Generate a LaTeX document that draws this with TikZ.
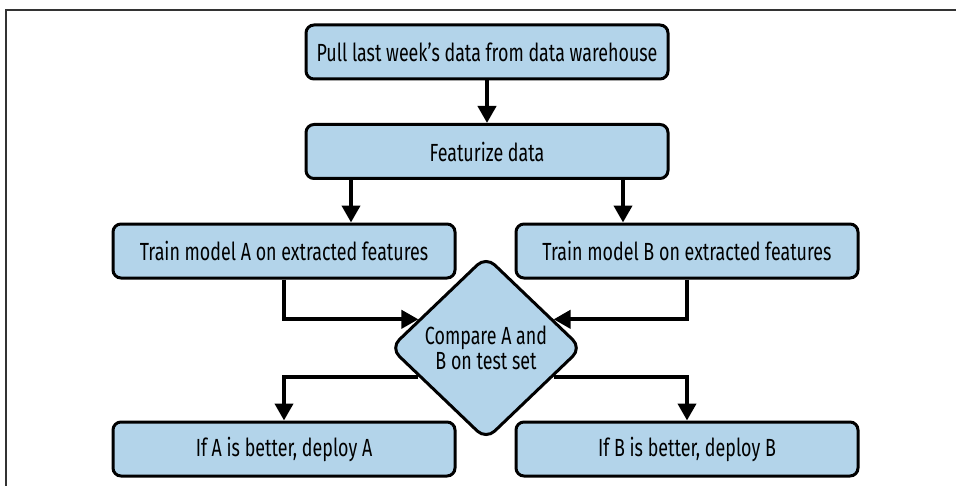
\documentclass[tikz,border=0pt]{standalone}
\usepackage{fontspec}
\setmainfont{Fira Sans}[FakeStretch=0.72]
\usepackage{tikz}
\usetikzlibrary{arrows.meta,shapes.geometric}
\definecolor{boxfill}{HTML}{B3D4EA}
\definecolor{framegray}{HTML}{333333}
\tikzset{
  stepbox/.style={draw, rounded corners=4pt, line width=1.5pt, align=center,
    inner xsep=2pt, minimum height=27pt, font=\fontsize{12.4}{14}\selectfont, fill=boxfill},
  widebox/.style={stepbox, minimum width=181pt},
  sidebox/.style={stepbox, minimum width=171pt},
  decision/.style={diamond, draw, rounded corners=6pt, line width=1.5pt, fill=boxfill,
    align=center, inner sep=0pt, minimum width=96pt, minimum height=92pt,
    font=\fontsize{12.4}{12.5}\selectfont},
  arr/.style={-{Triangle[length=8.5pt, width=9pt]}, line width=2pt}
}
\begin{document}
\begin{tikzpicture}[x=0.5pt,y=-0.5pt]
  \useasboundingbox (0,0) rectangle (956,486);
  % frame
  \draw[framegray, line width=0.8pt] (6,486) -- (6,10) -- (956,10);
  % steps
  \node[widebox] (pull) at (487,52) {Pull last week’s data from data warehouse};
  \node[widebox] (feat) at (487,151.5) {Featurize data};
  \node[sidebox] (trainA) at (284,251) {Train model A on extracted features};
  \node[sidebox] (trainB) at (687,251) {Train model B on extracted features};
  \node[decision] (cmp) at (486,348) {Compare A and\\B on test set};
  \node[sidebox] (ifA) at (284,449) {If A is better, deploy A};
  \node[sidebox] (ifB) at (687,449) {If B is better, deploy B};
  % connectors
  \draw[arr] (pull) -- (feat);
  \draw[arr] ([xshift=-68pt]feat.south) -- ([xshift=-68pt]feat.south |- trainA.north);
  \draw[arr] ([xshift=68pt]feat.south) -- ([xshift=68pt]feat.south |- trainB.north);
  \draw[arr] (trainA.south) |- (cmp.157);
  \draw[arr] (trainB.south) |- (cmp.23);
  \draw[arr] (cmp.203) -| (ifA.north);
  \draw[arr] (cmp.-23) -| (ifB.north);
\end{tikzpicture}
\end{document}
